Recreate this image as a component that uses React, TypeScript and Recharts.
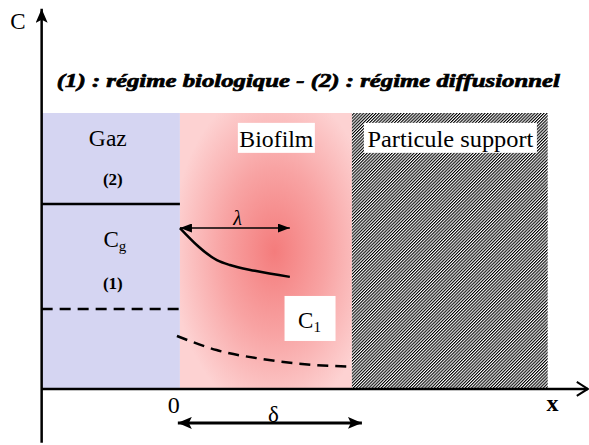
import React from 'react';
import { ComposedChart, Line, XAxis, YAxis, ReferenceArea, ReferenceLine, ReferenceDot } from 'recharts';

// x: distance (0 = gas/biofilm interface, 1 = δ), c: concentration (arbitrary units)
const regionNames = ['Gaz', 'Biofilm', 'Particule support'];
const regionStart = [-0.8, 0, 0.995];
const regionEnd = [0, 0.995, 2.128];
const regionTop = 10;

// regime (2): diffusional
const gasProfile2 = [
    { x: -0.8, c: 6.7 },
    { x: 0, c: 6.7 },
];
const biofilmProfile2 = [
    { x: 0, c: 5.83 },
    { x: 0.214, c: 4.67 },
    { x: 0.289, c: 4.49 },
    { x: 0.434, c: 4.28 },
    { x: 0.636, c: 4.06 },
];

// regime (1): biological
const gasProfile1 = [
    { x: -0.8, c: 2.9 },
    { x: 0, c: 2.9 },
];
const biofilmProfile1 = [
    { x: -0.017, c: 1.92 },
    { x: 0.212, c: 1.41 },
    { x: 0.482, c: 1.08 },
    { x: 0.771, c: 0.87 },
    { x: 0.992, c: 0.81 },
];

const lambdaSpan = [0, 0.636];
const lambdaLevel = 5.83;
const deltaSpan = [-0.012, 1.053];
const deltaLevel = -1.23;

const title = '(1) : régime biologique - (2) : régime diffusionnel';

const serif = 'Liberation Serif';

export default function App(): React.JSX.Element {
    const width = 589;
    const height = 445;

    const arrowLine = (marker: string, startMarker: string | null, w: number) => (p: any) => (
        <line
            x1={p.x1}
            y1={p.y1}
            x2={p.x2}
            y2={p.y2}
            stroke="#000"
            strokeWidth={w}
            markerEnd={`url(#${marker})`}
            markerStart={startMarker ? `url(#${startMarker})` : undefined}
        />
    );

    const boxedText = (text: string, w: number, h: number, dy: number, len: number) => (p: any) => (
        <g>
            <rect x={p.cx - w / 2} y={p.cy - h + dy} width={w} height={h} fill="#fff" />
            <text x={p.cx} y={p.cy} textAnchor="middle" style={{ fontFamily: serif }} fontSize={23} fill="#000" textLength={len} lengthAdjust="spacingAndGlyphs">
                {text}
            </text>
        </g>
    );

    const plainText = (text: string, size: number, extra: any = {}) => (p: any) => (
        <text x={p.cx} y={p.cy} textAnchor="middle" style={{ fontFamily: serif }} fontSize={size} fill="#000" {...extra}>
            {text}
        </text>
    );

    const subText = (main: string, sub: string, box: boolean) => (p: any) => (
        <g>
            {box && <rect x={p.cx - 25} y={p.cy - 32} width={51} height={45} fill="#fff" />}
            <text x={p.cx} y={p.cy} textAnchor="middle" style={{ fontFamily: serif }} fontSize={23} fill="#000">
                {main}
                <tspan fontSize={15} dy={4}>{sub}</tspan>
            </text>
        </g>
    );

    const lineProps = { stroke: '#000', strokeWidth: 2.5, dot: false, activeDot: false, isAnimationActive: false };

    return (
        <div style={{ position: 'absolute', left: 0, top: 0, background: '#fff' }}>
            <ComposedChart width={width} height={height} margin={{ top: 0, right: 0, bottom: 0, left: 0 }}>
                <defs>
                    <radialGradient id="bio" cx="0.55" cy="0.5" r="0.6">
                        <stop offset="0" stopColor="#f47c7c" />
                        <stop offset="0.5" stopColor="#f8a3a3" />
                        <stop offset="1" stopColor="#fdd2d2" />
                    </radialGradient>
                    <pattern id="hatch" patternUnits="userSpaceOnUse" width={2.2} height={2.2} patternTransform="rotate(45)">
                        <rect width={2.2} height={2.2} fill="#fff" />
                        <rect x={0} y={0} width={1.1} height={2.2} fill="#000" />
                    </pattern>
                    <marker id="headBig" markerUnits="userSpaceOnUse" markerWidth={14} markerHeight={12} refX={14} refY={6} orient="auto-start-reverse">
                        <path d="M0,0 L14,6 L0,12 L3,6 z" fill="#000" />
                    </marker>
                    <marker id="headSmall" markerUnits="userSpaceOnUse" markerWidth={12} markerHeight={9} refX={12} refY={4.5} orient="auto-start-reverse">
                        <path d="M0,0 L12,4.5 L0,9 z" fill="#000" />
                    </marker>
                    <marker id="chevron" markerUnits="userSpaceOnUse" markerWidth={14} markerHeight={16} refX={12} refY={8} orient="auto">
                        <path d="M1,1 L12,8 L1,15" fill="none" stroke="#000" strokeWidth={2} />
                    </marker>
                </defs>
                <XAxis type="number" dataKey="x" domain={[-1.041, 2.367]} allowDataOverflow hide />
                <YAxis type="number" dataKey="c" domain={[-2.03, 14.09]} allowDataOverflow hide />

                {regionNames.map((name, i) => (
                    <ReferenceArea
                        key={name}
                        x1={regionStart[i]}
                        x2={regionEnd[i]}
                        y1={0}
                        y2={regionTop}
                        fill={i === 0 ? '#d5d5f2' : i === 1 ? 'url(#bio)' : 'url(#hatch)'}
                        fillOpacity={1}
                        stroke="none"
                    />
                ))}

                {/* axes */}
                <ReferenceLine segment={[{ x: -0.8, y: -1.95 }, { x: -0.8, y: 13.77 }]} shape={arrowLine('headBig', null, 2.5)} />
                <ReferenceLine segment={[{ x: -0.8, y: 0 }, { x: 2.36, y: 0 }]} shape={arrowLine('chevron', null, 2.5)} />

                <Line data={gasProfile2} dataKey="c" {...lineProps} />
                <Line data={gasProfile1} dataKey="c" {...lineProps} strokeDasharray="11 7" />
                <Line data={biofilmProfile2} dataKey="c" type="monotone" {...lineProps} />
                <Line data={biofilmProfile1} dataKey="c" type="monotone" {...lineProps} strokeDasharray="11 7" />

                <ReferenceLine segment={[{ x: lambdaSpan[0], y: lambdaLevel }, { x: lambdaSpan[1], y: lambdaLevel }]} shape={arrowLine('headSmall', 'headSmall', 1.5)} />
                <ReferenceLine segment={[{ x: deltaSpan[0], y: deltaLevel }, { x: deltaSpan[1], y: deltaLevel }]} shape={arrowLine('headBig', 'headBig', 3)} />

                {/* labels */}
                <ReferenceDot x={-0.938} y={13.04} r={0} shape={plainText('C', 23)} />
                <ReferenceDot
                    x={-0.712}
                    y={10.94}
                    r={0}
                    shape={(p: any) => (
                        <text
                            x={p.cx}
                            y={p.cy}
                            style={{ fontFamily: serif }}
                            fontSize={19}
                            fontWeight="bold"
                            fontStyle="italic"
                            fill="#000"
                            stroke="#000"
                            strokeWidth={0.7}
                            textLength={503}
                            lengthAdjust="spacingAndGlyphs"
                        >
                            {title}
                        </text>
                    )}
                />
                <ReferenceDot x={-0.417} y={8.8} r={0} shape={plainText(regionNames[0], 23, { textLength: 38, lengthAdjust: 'spacingAndGlyphs' })} />
                <ReferenceDot x={0.558} y={8.77} r={0} shape={boxedText(regionNames[1], 77, 30, 6, 74)} />
                <ReferenceDot x={1.565} y={8.77} r={0} shape={boxedText(regionNames[2], 173, 30, 6, 166)} />
                <ReferenceDot x={-0.388} y={7.39} r={0} shape={plainText('(2)', 17, { fontWeight: 'bold' })} />
                <ReferenceDot x={-0.376} y={5.14} r={0} shape={subText('C', 'g', false)} />
                <ReferenceDot x={-0.388} y={3.62} r={0} shape={plainText('(1)', 17, { fontWeight: 'bold' })} />
                <ReferenceDot x={0.75} y={2.21} r={0} shape={subText('C', '1', true)} />
                <ReferenceDot x={0.333} y={5.94} r={0} shape={plainText('λ', 20, { fontStyle: 'italic' })} />
                <ReferenceDot x={-0.035} y={-0.87} r={0} shape={plainText('0', 24)} />
                <ReferenceDot x={0.541} y={-1.2} r={0} shape={plainText('δ', 23)} />
                <ReferenceDot x={2.156} y={-0.8} r={0} shape={plainText('x', 24, { fontWeight: 'bold' })} />
            </ComposedChart>
        </div>
    );
}
